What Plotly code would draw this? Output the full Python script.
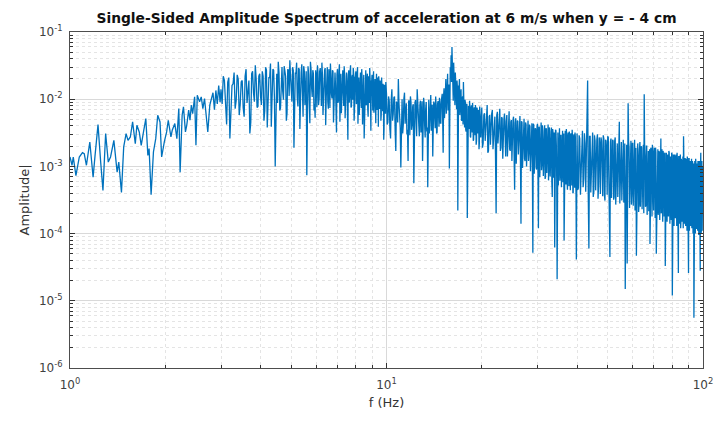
import numpy as np
import plotly.graph_objects as go

# ---------------------------------------------------------------------------
# Single-sided amplitude spectrum |A(f)| of the measured acceleration signal
# ---------------------------------------------------------------------------

# 1 - 3 Hz: individual spectral lines
freq_low = [
    1.000, 1.015, 1.024, 1.044, 1.070, 1.095, 1.109, 1.127, 1.155, 1.183,
    1.200, 1.226, 1.250, 1.271, 1.296, 1.321, 1.343, 1.376, 1.409, 1.426,
    1.454, 1.478, 1.504, 1.525, 1.551, 1.577, 1.608, 1.627, 1.655, 1.679,
    1.707, 1.736, 1.762, 1.778, 1.804, 1.835, 1.866, 1.893, 1.925, 1.948,
    1.986, 2.020, 2.044, 2.084, 2.104, 2.144, 2.176, 2.207, 2.228, 2.261,
    2.283, 2.316, 2.338, 2.371, 2.394, 2.417, 2.441, 2.476, 2.500, 2.524,
    2.567, 2.598, 2.629, 2.661, 2.693, 2.725, 2.765, 2.805, 2.830, 2.860,
    2.890, 2.920, 2.950, 2.980,
]
amp_low = [
    0.00138, 0.00104, 0.00138, 0.00073, 0.00138, 0.00160, 0.00155, 0.00104, 0.00231, 0.00069,
    0.00146, 0.00419, 0.00116, 0.00044, 0.00308, 0.00116, 0.00138, 0.00244, 0.00082, 0.00116,
    0.00041, 0.00195, 0.00308, 0.00244, 0.00274, 0.00459, 0.00218, 0.00409, 0.00326, 0.00206,
    0.00326, 0.00515, 0.00146, 0.00184, 0.00038, 0.00164, 0.00259, 0.00577, 0.00459, 0.00138,
    0.00231, 0.00326, 0.00486, 0.00274, 0.00345, 0.00434, 0.00259, 0.00726, 0.00082, 0.00577,
    0.00769, 0.00326, 0.00409, 0.00686, 0.00486, 0.00814, 0.00611, 0.01084, 0.00206, 0.01148,
    0.00912, 0.01084, 0.00726, 0.01023, 0.00577, 0.00326, 0.00814, 0.01148, 0.0125, 0.0070,
    0.0135, 0.0085, 0.0160, 0.0090,
]

# 3 - 10 Hz, bins every 0.05 Hz starting at 3.000 Hz
f0_mid, df_mid = 3.0, 0.05
amp_mid = [
    0.014, 0.022, 0.0065, 0.018, 0.0026, 0.016, 0.025, 0.0095, 0.020, 0.0085,
    0.019, 0.0055, 0.028, 0.016, 0.0031, 0.024, 0.0125, 0.032, 0.0075, 0.022,
    0.011, 0.026, 0.0048, 0.030, 0.0038, 0.021, 0.034, 0.0085, 0.027, 0.0010,
    0.024, 0.036, 0.0068, 0.029, 0.013, 0.031, 0.022, 0.0062, 0.027, 0.038,
    0.016, 0.030, 0.0019, 0.025, 0.035, 0.0078, 0.028, 0.020, 0.033, 0.0055,
    0.026, 0.018, 0.00074, 0.031, 0.0092, 0.036, 0.015, 0.027, 0.0068, 0.0053,
    0.023, 0.032, 0.0082, 0.026, 0.019, 0.035, 0.0058, 0.024, 0.029, 0.0105,
    0.030, 0.0072, 0.022, 0.034, 0.012, 0.027, 0.0045, 0.025, 0.016, 0.0032,
    0.028, 0.0095, 0.033, 0.021, 0.0062, 0.026, 0.014, 0.031, 0.0052, 0.024,
    0.019, 0.0025, 0.027, 0.011, 0.032, 0.0078, 0.023, 0.029, 0.0048, 0.021,
    0.026, 0.0088, 0.030, 0.017, 0.0058, 0.025, 0.012, 0.028, 0.0042, 0.022,
    0.0026, 0.020, 0.027, 0.0085, 0.024, 0.0055, 0.021, 0.029, 0.0098, 0.019,
    0.023, 0.0068, 0.026, 0.012, 0.020, 0.0044, 0.024, 0.0092, 0.018, 0.022,
    0.0075, 0.019, 0.0048, 0.021, 0.0105, 0.017, 0.0025, 0.016, 0.0065, 0.018,
]
# 3 - 10 Hz, interleaved bins starting at 3.025 Hz
f0_mid2, df_mid2 = 3.025, 0.05
amp_mid2 = [
    0.0085, 0.019, 0.0042, 0.021, 0.0095, 0.017, 0.0072, 0.023, 0.0058, 0.018,
    0.0075, 0.022, 0.0088, 0.019, 0.0045, 0.026, 0.0092, 0.020, 0.0078, 0.024,
    0.0082, 0.022, 0.0068, 0.027, 0.0095, 0.021, 0.0039, 0.028, 0.0105, 0.023,
    0.0088, 0.025, 0.0074, 0.030, 0.0098, 0.024, 0.0048, 0.028, 0.0112, 0.022,
    0.0092, 0.027, 0.0078, 0.024, 0.0105, 0.029, 0.0036, 0.025, 0.0095, 0.031,
    0.0082, 0.026, 0.0099, 0.023, 0.0044, 0.028, 0.0108, 0.024, 0.0085, 0.027,
    0.0076, 0.025, 0.0102, 0.029, 0.0079, 0.023, 0.0094, 0.027, 0.0041, 0.024,
    0.0091, 0.028, 0.0074, 0.022, 0.0103, 0.026, 0.0081, 0.025, 0.0037, 0.023,
    0.0088, 0.026, 0.0046, 0.024, 0.0097, 0.027, 0.0079, 0.022, 0.0093, 0.025,
    0.0035, 0.023, 0.0089, 0.026, 0.0075, 0.021, 0.0098, 0.024, 0.0071, 0.022,
    0.0085, 0.024, 0.0043, 0.021, 0.0092, 0.025, 0.0074, 0.020, 0.0087, 0.023,
    0.0065, 0.021, 0.0082, 0.019, 0.0071, 0.022, 0.0088, 0.020, 0.0034, 0.018,
    0.0078, 0.020, 0.0063, 0.019, 0.0081, 0.017, 0.0069, 0.021, 0.0039, 0.018,
    0.0072, 0.016, 0.0059, 0.017, 0.0066, 0.015, 0.0036, 0.016, 0.0061, 0.014,
]

# 10 - 20 Hz, bins every 0.1 Hz (resonance near 16 Hz)
f0_c1, df_c1 = 10.0, 0.1
amp_c1 = [
    0.012, 0.0045, 0.0095, 0.0026, 0.014, 0.006, 0.011, 0.0017, 0.0085, 0.020,
    0.005, 0.00096, 0.010, 0.0042, 0.0125, 0.0065, 0.003, 0.0012, 0.0092, 0.011,
    0.0035, 0.0078, 0.00056, 0.0088, 0.0048, 0.014, 0.0062, 0.0028, 0.0095, 0.0052,
    0.0012, 0.0105, 0.0041, 0.0072, 0.0033, 0.00049, 0.0098, 0.0046, 0.0115, 0.0058,
    0.0014, 0.0092, 0.0054, 0.011, 0.0031, 0.0085, 0.0062, 0.0105, 0.0044, 0.0095,
    0.012, 0.0016, 0.0145, 0.0072, 0.020, 0.0085, 0.024, 0.011, 0.00093, 0.030,
    0.045, 0.060, 0.028, 0.035, 0.0135, 0.025, 0.0095, 0.019, 0.00022, 0.016,
    0.020, 0.0075, 0.014, 0.0048, 0.011, 0.018, 0.0055, 0.0098, 0.0035, 0.0085,
    0.00017, 0.0078, 0.0042, 0.0095, 0.0028, 0.0072, 0.0051, 0.0088, 0.0024, 0.0068,
    0.0045, 0.0082, 0.0021, 0.0075, 0.0039, 0.0069, 0.0018, 0.0078, 0.0048, 0.0062,
]
f0_c1b, df_c1b = 10.05, 0.1
amp_c1b = [
    0.0042, 0.011, 0.0036, 0.0098, 0.0048, 0.0105, 0.0033, 0.0092, 0.0045, 0.0088,
    0.0038, 0.0095, 0.0031, 0.0102, 0.0043, 0.0087, 0.0035, 0.0096, 0.0029, 0.0091,
    0.0041, 0.0084, 0.0034, 0.0097, 0.0028, 0.0089, 0.0039, 0.0082, 0.0032, 0.0093,
    0.0036, 0.0086, 0.0027, 0.0091, 0.0038, 0.0079, 0.0031, 0.0088, 0.0034, 0.0083,
    0.0029, 0.0087, 0.0037, 0.0081, 0.0032, 0.0094, 0.0039, 0.0086, 0.0044, 0.0102,
    0.0048, 0.0112, 0.0052, 0.0125, 0.0061, 0.0138, 0.0068, 0.0165, 0.0078, 0.021,
    0.018, 0.024, 0.0095, 0.022, 0.0082, 0.017, 0.0071, 0.015, 0.0064, 0.0135,
    0.0058, 0.0118, 0.0049, 0.0105, 0.0042, 0.0096, 0.0038, 0.0089, 0.0033, 0.0084,
    0.0031, 0.0079, 0.0036, 0.0074, 0.0027, 0.0081, 0.0032, 0.0071, 0.0025, 0.0076,
    0.0029, 0.0068, 0.0024, 0.0072, 0.0031, 0.0065, 0.0022, 0.0069, 0.0027, 0.0063,
]

# 20 - 40 Hz, bins every 0.2 Hz
f0_c2, df_c2 = 20.0, 0.2
amp_c2 = [
    0.0075, 0.0022, 0.0062, 0.0035, 0.0082, 0.0017, 0.0058, 0.0041, 0.0069, 0.0026,
    0.0055, 0.0002, 0.0065, 0.0031, 0.0072, 0.0019, 0.0052, 0.0038, 0.0061, 0.0014,
    0.0058, 0.0029, 0.0066, 0.0017, 0.0049, 0.0036, 0.0055, 0.00045, 0.0052, 0.0024,
    0.0047, 0.0031, 0.0056, 0.00014, 0.0045, 0.0021, 0.0051, 0.0012, 0.0042, 0.0028,
    0.0048, 0.0016, 0.0039, 0.0026, 0.0044, 0.000052, 0.0041, 0.0019, 0.0036, 0.0009,
    0.0043, 0.00012, 0.0038, 0.0022, 0.0045, 0.0011, 0.0034, 0.0027, 0.0041, 0.0007,
    0.0036, 0.0019, 0.0042, 0.0009, 0.0033, 0.0024, 0.0038, 0.00035, 0.0031, 0.0016,
    0.000062, 0.0035, 0.0021, 0.000021, 0.0032, 0.0013, 0.0037, 0.0008, 0.0029, 0.0018,
    0.0034, 0.0011, 0.000079, 0.0031, 0.0019, 0.0036, 0.0006, 0.0028, 0.0015, 0.0033,
    0.0009, 0.0030, 0.0021, 0.0035, 0.0004, 0.0027, 0.0014, 0.0032, 0.0007, 0.000041,
]
f0_c2b, df_c2b = 20.1, 0.2
amp_c2b = [
    0.0019, 0.0058, 0.0024, 0.0063, 0.0016, 0.0055, 0.0021, 0.0061, 0.0018, 0.0052,
    0.0015, 0.0057, 0.0022, 0.0049, 0.0017, 0.0054, 0.0013, 0.0051, 0.0019, 0.0047,
    0.0014, 0.0052, 0.0018, 0.0046, 0.0012, 0.0049, 0.0016, 0.0044, 0.0011, 0.0048,
    0.0015, 0.0043, 0.0012, 0.0047, 0.00095, 0.0041, 0.0013, 0.0045, 0.0010, 0.0039,
    0.0012, 0.0042, 0.00085, 0.0038, 0.0011, 0.0043, 0.00078, 0.0037, 0.00095, 0.0040,
    0.00082, 0.0039, 0.00069, 0.0036, 0.00088, 0.0041, 0.00072, 0.0034, 0.00065, 0.0037,
    0.00080, 0.0035, 0.00062, 0.0038, 0.00071, 0.0033, 0.00058, 0.0036, 0.00068, 0.0032,
    0.00055, 0.0034, 0.00066, 0.0031, 0.00052, 0.0035, 0.00061, 0.0029, 0.00049, 0.0033,
    0.00058, 0.0031, 0.00047, 0.0034, 0.00054, 0.0028, 0.00045, 0.0032, 0.00051, 0.0029,
    0.00044, 0.0031, 0.00052, 0.0027, 0.00041, 0.0030, 0.00048, 0.0028, 0.00039, 0.0029,
]

# 40 - 100 Hz, bins every 0.4 Hz
f0_c3, df_c3 = 40.0, 0.4
amp_c3 = [
    0.0031, 0.00048, 0.0026, 0.0012, 0.0034, 0.00065, 0.0022, 0.0029, 0.019, 0.00006,
    0.0028, 0.0009, 0.0032, 0.00042, 0.0024, 0.0015, 0.0030, 0.00055, 0.0021, 0.0027,
    0.0011, 0.0029, 0.00038, 0.0025, 0.0018, 0.0028, 0.0007, 0.000045, 0.0026, 0.0013,
    0.0024, 0.00035, 0.0027, 0.0010, 0.0022, 0.0016, 0.0046, 0.0005, 0.0023, 0.0012,
    0.0025, 0.00032, 0.000015, 0.0021, 0.000036, 0.0087, 0.0019, 0.0008, 0.0024, 0.0004,
    0.0022, 0.0011, 0.0025, 0.0006, 0.000047, 0.0021, 0.0014, 0.00028, 0.0023, 0.0009,
    0.0019, 0.0005, 0.0021, 0.0118, 0.0013, 0.00027, 0.0020, 0.0008, 0.0017, 0.00022,
    0.00007, 0.0019, 0.0011, 0.0021, 0.0004, 0.0016, 0.0009, 0.0019, 0.00005, 0.0015,
    0.0018, 0.00025, 0.0016, 0.0007, 0.0026, 0.0012, 0.0003, 0.0017, 0.0008, 0.0015,
    0.000033, 0.0016, 0.0006, 0.0014, 0.00019, 0.0017, 0.0009, 0.0013, 0.0004, 0.0016,
    0.000012, 0.0014, 0.0007, 0.0015, 0.00018, 0.0013, 0.0010, 0.0016, 0.00035, 0.000026,
    0.0014, 0.0006, 0.0015, 0.00016, 0.0012, 0.0009, 0.0014, 0.0028, 0.0004, 0.0013,
    0.00014, 0.0012, 0.0007, 0.0014, 0.00021, 0.000026, 0.0013, 0.0005, 0.0012, 0.0009,
    0.0013, 0.00015, 0.0011, 0.0006, 0.0000056, 0.0012, 0.0003, 0.0013, 0.00012, 0.0010,
    0.0008, 0.0012, 0.0002, 0.0011, 0.0005, 0.000028, 0.0016, 0.00011, 0.0012, 0.0007,
]
f0_c3b, df_c3b = 40.2, 0.4
amp_c3b = [
    0.00045, 0.0029, 0.00038, 0.0027, 0.00049, 0.0031, 0.00042, 0.0026, 0.00036, 0.0028,
    0.00041, 0.0027, 0.00035, 0.0029, 0.00044, 0.0025, 0.00033, 0.0027, 0.00039, 0.0024,
    0.00036, 0.0026, 0.00031, 0.0024, 0.00038, 0.0027, 0.00029, 0.0023, 0.00034, 0.0025,
    0.00032, 0.0024, 0.00027, 0.0022, 0.00035, 0.0025, 0.00028, 0.0021, 0.00031, 0.0023,
    0.00029, 0.0022, 0.00025, 0.0021, 0.00031, 0.0023, 0.00024, 0.0020, 0.00027, 0.0022,
    0.00026, 0.0021, 0.00022, 0.0019, 0.00028, 0.0022, 0.00021, 0.0018, 0.00025, 0.0020,
    0.00023, 0.0019, 0.00020, 0.0018, 0.00025, 0.0020, 0.00019, 0.0017, 0.00022, 0.0018,
    0.00021, 0.0018, 0.00018, 0.0017, 0.00022, 0.0019, 0.00017, 0.0016, 0.00020, 0.0017,
    0.00019, 0.0017, 0.00016, 0.0016, 0.00020, 0.0018, 0.00015, 0.0015, 0.00018, 0.0016,
    0.00017, 0.0016, 0.00015, 0.0015, 0.00018, 0.0016, 0.00014, 0.0014, 0.00016, 0.0015,
    0.00016, 0.0015, 0.00013, 0.0014, 0.00017, 0.0015, 0.00013, 0.0013, 0.00015, 0.0014,
    0.00014, 0.0014, 0.00012, 0.0013, 0.00015, 0.0014, 0.00012, 0.0013, 0.00014, 0.0013,
    0.00013, 0.0013, 0.00011, 0.0012, 0.00014, 0.0013, 0.00011, 0.0012, 0.00013, 0.0012,
    0.00012, 0.0012, 0.00010, 0.0011, 0.00013, 0.0012, 0.00010, 0.0011, 0.00012, 0.0011,
    0.00011, 0.0011, 0.000095, 0.0012, 0.00012, 0.0010, 0.00010, 0.0011, 0.00011, 0.0010,
]


def bins(f0, df, values):
    return list(np.round(f0 + df * np.arange(len(values)), 3))


segments = [
    (freq_low, amp_low),
    (bins(f0_mid, df_mid, amp_mid), amp_mid),
    (bins(f0_mid2, df_mid2, amp_mid2), amp_mid2),
    (bins(f0_c1, df_c1, amp_c1), amp_c1),
    (bins(f0_c1b, df_c1b, amp_c1b), amp_c1b),
    (bins(f0_c2, df_c2, amp_c2), amp_c2),
    (bins(f0_c2b, df_c2b, amp_c2b), amp_c2b),
    (bins(f0_c3, df_c3, amp_c3), amp_c3),
    (bins(f0_c3b, df_c3b, amp_c3b), amp_c3b),
]
pairs = sorted((f, a) for fs, amps in segments for f, a in zip(fs, amps))
freq = [p[0] for p in pairs]
amp = [p[1] for p in pairs]

# Axis ticks
x_major = [1, 10, 100]
x_major_text = ["10<sup>0</sup>", "10<sup>1</sup>", "10<sup>2</sup>"]
x_minor = [k * d for d in (1, 10) for k in range(2, 10)]
y_major = [1e-6, 1e-5, 1e-4, 1e-3, 1e-2, 1e-1]
y_major_text = ["10<sup>-6</sup>", "10<sup>-5</sup>", "10<sup>-4</sup>",
                "10<sup>-3</sup>", "10<sup>-2</sup>", "10<sup>-1</sup>"]
y_minor = [k * 10.0 ** e for e in range(-6, -1) for k in range(2, 10)]

FONT = "DejaVu Sans, Verdana, sans-serif"
AX_COLOR = "#4d4d4d"

fig = go.Figure(
    go.Scatter(x=freq, y=amp, mode="lines",
               line=dict(color="#0072BD", width=1.3))
)

common = dict(
    type="log",
    tickmode="array",
    ticks="inside",
    ticklen=5,
    tickwidth=1,
    tickcolor="#333333",
    showline=True,
    linecolor=AX_COLOR,
    linewidth=1,
    mirror="allticks",
    showgrid=True,
    gridcolor="#d9d9d9",
    gridwidth=1,
    zeroline=False,
    tickfont=dict(family=FONT, size=12, color="#404040"),
)

fig.update_xaxes(
    **common,
    range=[0, 2],
    tickvals=x_major,
    ticktext=x_major_text,
    ticklabelstandoff=6,
    minor=dict(tickmode="array", tickvals=x_minor, ticks="inside", ticklen=3,
               tickcolor="#333333", showgrid=True, gridcolor="#e4e4e4",
               griddash="dot", gridwidth=1),
    title=dict(text="f (Hz)", standoff=6,
               font=dict(family=FONT, size=13, color="#333333")),
)
fig.update_yaxes(
    **common,
    range=[-6, -1],
    tickvals=y_major,
    ticktext=y_major_text,
    ticklabelstandoff=4,
    minor=dict(tickmode="array", tickvals=y_minor, ticks="inside", ticklen=3,
               tickcolor="#333333", showgrid=True, gridcolor="#e4e4e4",
               griddash="dot", gridwidth=1),
    title=dict(text="Amplitude|", standoff=6,
               font=dict(family=FONT, size=13, color="#333333")),
)

fig.update_layout(
    width=725,
    height=421,
    margin=dict(l=70, r=14, t=32, b=53),
    plot_bgcolor="white",
    paper_bgcolor="white",
    showlegend=False,
    font=dict(family=FONT, color="#333333"),
    title=dict(
        text="<b>Single-Sided Amplitude Spectrum of acceleration at 6 m/s when y = - 4 cm</b>",
        x=0.5, xref="paper", xanchor="center",
        y=1 - 18 / 421, yref="container", yanchor="middle",
        font=dict(family=FONT, size=13.8, color="#111111"),
    ),
)

fig.write_html("out.html")
